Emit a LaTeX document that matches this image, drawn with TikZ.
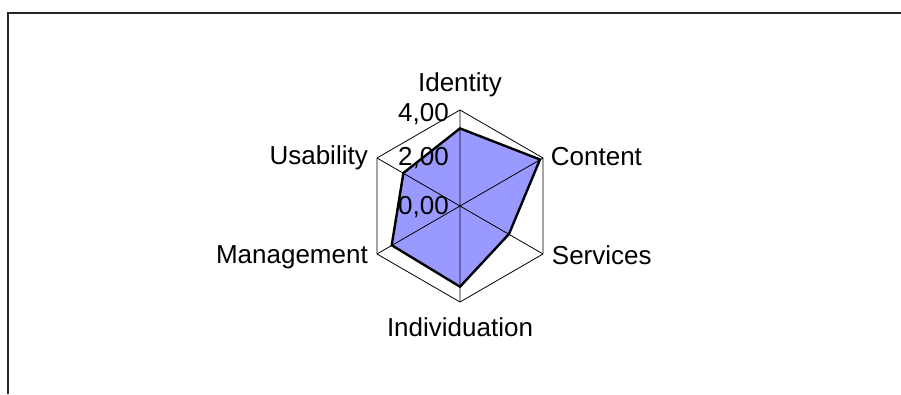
\documentclass[tikz,border=0pt]{standalone}
\usepackage{fontspec}
\setmainfont{Liberation Sans}
\definecolor{radarfill}{RGB}{153,153,255}
\begin{document}
\begin{tikzpicture}[x=1pt,y=-1pt,
  lbl/.style={inner sep=0pt,font=\fontsize{26}{30}\selectfont},
  grid/.style={draw=black,line width=0.8pt},
  series/.style={draw=black,line width=2.4pt,line join=miter,fill=radarfill}]
\useasboundingbox (0,0) rectangle (901,394);
% frame
\draw[line width=1.4pt,draw=black!85] (8,394) -- (8,13) -- (901,13);
% axes vertices
\coordinate (c) at (460,206);
\coordinate (v1) at (460,110);
\coordinate (v2) at (543,158);
\coordinate (v3) at (543,254);
\coordinate (v4) at (460,302);
\coordinate (v5) at (377,254);
\coordinate (v6) at (377,158);
% data points
\coordinate (p1) at (460,128.4);
\coordinate (p2) at (540,159.5);
\coordinate (p3) at (509,234);
\coordinate (p4) at (460,286.7);
\coordinate (p5) at (391.7,245.2);
\coordinate (p6) at (403.4,173);
\fill[radarfill] (p1) -- (p2) -- (p3) -- (p4) -- (p5) -- (p6) -- cycle;
\draw[grid] (v1) -- (v2) -- (v3) -- (v4) -- (v5) -- (v6) -- cycle;
\draw[grid] (v1) -- (v4) (v2) -- (v5) (v3) -- (v6);
% scale labels
\node[lbl,anchor=base east] (s4) at (449,121.7) {4,00};
\node[lbl,anchor=base east] (s2) at (449,165) {2,00};
\node[lbl,anchor=base east] (s0) at (449,214) {0,00};
\draw[series,fill=none] (p1) -- (p2) -- (p3) -- (p4) -- (p5) -- (p6) -- cycle;
% axis labels
\node[lbl,anchor=base] (lid) at (460,91.7) {Identity};
\node[lbl,anchor=base west] (lco) at (550.7,165) {Content};
\node[lbl,anchor=base west] (lse) at (551.7,264.3) {Services};
\node[lbl,anchor=base] (lin) at (460,336.7) {Individuation};
\node[lbl,anchor=base east] (lma) at (368,263.3) {Management};
\node[lbl,anchor=base east] (lus) at (368,164) {Usability};
\end{tikzpicture}
\end{document}
